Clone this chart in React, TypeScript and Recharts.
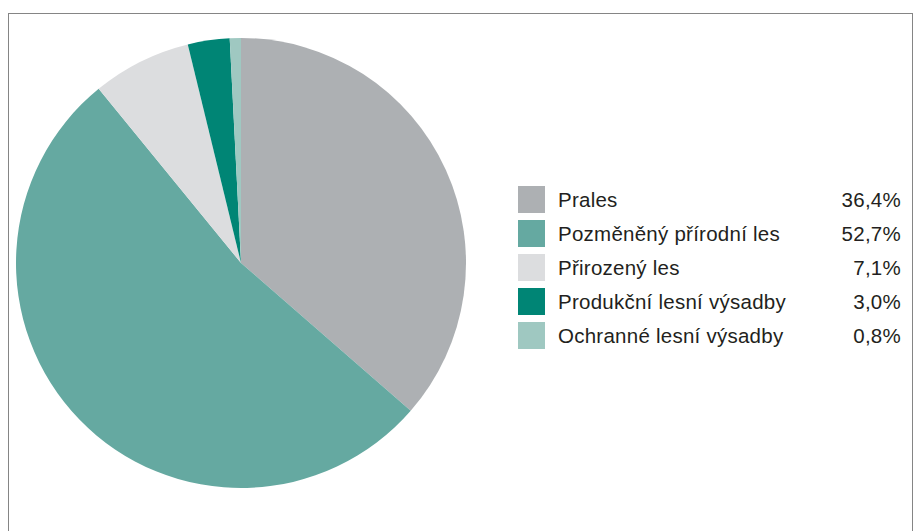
import { PieChart, Pie, Cell, Legend } from 'recharts';

// Forest structure shares (%)
const categories = [
  'Prales',
  'Pozměněný přírodní les',
  'Přirozený les',
  'Produkční lesní výsadby',
  'Ochranné lesní výsadby',
];
const shares = [36.4, 52.7, 7.1, 3.0, 0.8];
const shareLabels = ['36,4%', '52,7%', '7,1%', '3,0%', '0,8%'];

const COLORS = ['#adb0b3', '#65a9a1', '#dcdddf', '#008575', '#9fc8c1'];

const FONT = '"Liberation Sans", Arial, sans-serif';

const pieData = categories.map((name, i) => ({ name, value: shares[i], label: shareLabels[i] }));

const LegendTable = () => (
  <div style={{ fontFamily: FONT, fontSize: 20.5, letterSpacing: 0.25, color: '#231f20' }}>
    {pieData.map((d, i) => (
      <div
        key={d.name}
        style={{ display: 'flex', alignItems: 'center', height: 27, marginBottom: 7 }}
      >
        <div style={{ width: 27, height: 27, background: COLORS[i], flexShrink: 0 }} />
        <span style={{ marginLeft: 13, flex: 1 }}>{d.name}</span>
        <span>{d.label}</span>
      </div>
    ))}
  </div>
);

export default function App() {
  return (
    <div style={{ position: 'absolute', left: 0, top: 0, width: 917, height: 531, background: '#fff', overflow: 'hidden' }}>
      {/* frame, bottom edge runs off the page */}
      <div
        style={{
          position: 'absolute',
          left: 8,
          top: 13,
          width: 903,
          height: 540,
          border: '1.5px solid #858585',
        }}
      />
      <div style={{ position: 'absolute', left: 0, top: 0 }}>
        <PieChart width={917} height={531} margin={{ top: 0, right: 0, bottom: 0, left: 0 }}>
          <Pie
            data={pieData}
            dataKey="value"
            cx={241}
            cy={263}
            outerRadius={225}
            startAngle={90}
            endAngle={-270}
            stroke="none"
            isAnimationActive={false}
          >
            {pieData.map((entry, i) => (
              <Cell key={`cell-${i}`} fill={COLORS[i]} />
            ))}
          </Pie>
          <Legend
            content={<LegendTable />}
            wrapperStyle={{ position: 'absolute', left: 518, top: 186, width: 383 }}
          />
        </PieChart>
      </div>
    </div>
  );
}
